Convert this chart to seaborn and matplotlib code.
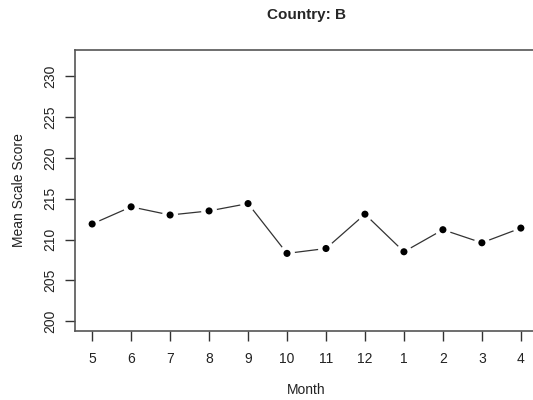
import matplotlib
matplotlib.use("Agg")
import matplotlib.pyplot as plt
import seaborn as sns
import pandas as pd
import numpy as np

months = ["5", "6", "7", "8", "9", "10", "11", "12", "1", "2", "3", "4"]
scores = [211.9, 214.0, 213.0, 213.5, 214.4, 208.3, 208.9, 213.1, 208.5, 211.2, 209.6, 211.4]
y_ticks = [200, 205, 210, 215, 220, 225, 230]

df = pd.DataFrame({"pos": np.arange(1, len(months) + 1), "score": scores})

sns.set_style("white")
plt.rcParams['font.family'] = ['Liberation Sans', 'DejaVu Sans']

fig = plt.figure(figsize=(5.33, 4.0), dpi=100)
ax = fig.add_axes([75 / 533, 69 / 400, (538 - 75) / 533, (331 - 50) / 400])

sns.lineplot(data=df, x="pos", y="score", ax=ax, color="#333333", linewidth=0.9)
sns.scatterplot(data=df, x="pos", y="score", ax=ax, s=130, color="white", edgecolor="none", zorder=3)
sns.scatterplot(data=df, x="pos", y="score", ax=ax, s=26, color="black", edgecolor="none", zorder=4)

ax.set_xlim(0.56, 12.44)
ax.set_ylim(198.8, 233.2)
ax.set_xticks(df["pos"])
ax.set_xticklabels(months)
ax.set_yticks(y_ticks)
ax.set_yticklabels([str(t) for t in y_ticks], rotation=90, va="center")

for s in ax.spines.values():
    s.set_visible(True)
    s.set_color("#555555")
    s.set_linewidth(1.2)

ax.tick_params(axis="both", which="both", direction="out", length=7, width=1.0,
               color="#333333", labelsize=10, labelcolor="#222222", left=True, bottom=True)
ax.tick_params(axis="x", pad=8)
ax.tick_params(axis="y", pad=6)

ax.set_xlabel("Month", fontsize=10, color="#222222", labelpad=12)
ax.set_ylabel("Mean Scale Score", fontsize=10, color="#222222", labelpad=12)
ax.set_title("Country: B", fontsize=11, fontweight="bold", pad=22)

fig.savefig("out.png", dpi=100)
